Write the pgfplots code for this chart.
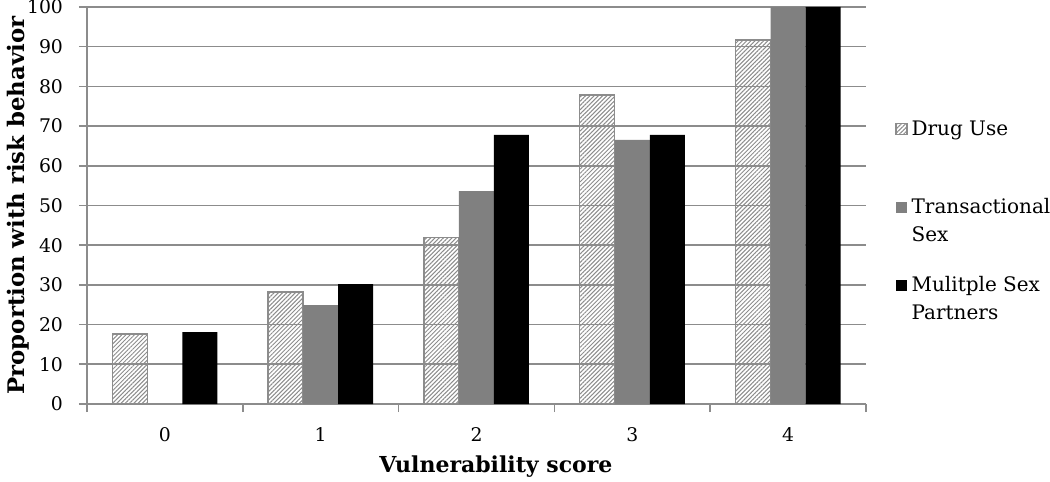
\documentclass[border=0pt]{standalone}
\usepackage{pgfplots}
\pgfplotsset{compat=1.18}
\usepackage{fontspec}
\setmainfont{DejaVu Serif}
\usetikzlibrary{patterns.meta}
\definecolor{gridgray}{RGB}{140,140,140}
\definecolor{bargray}{RGB}{128,128,128}
\begin{document}
\begin{tikzpicture}
\useasboundingbox (-43.5pt,-39pt) rectangle (481.5pt,202pt);
\begin{axis}[
  at={(0,0)}, anchor=south west,
  scale only axis, width=389.5pt, height=198.5pt,
  font=\fontsize{9.4}{11}\selectfont,
  /pgf/number format/assume math mode=true,
  ybar=0pt, bar width=17.5pt,
  xmin=-0.5, xmax=4.5, ymin=0, ymax=100,
  axis lines=left, axis line style={gridgray, line width=0.8pt, -},
  xtick={-0.5,0.5,1.5,2.5,3.5,4.5}, xticklabels={},
  extra x ticks={0,1,2,3,4}, extra x tick labels={0,1,2,3,4},
  extra x tick style={major tick length=0pt, grid=none, xticklabel style={yshift=-8pt}},
  ytick={0,10,...,100},
  ymajorgrids, grid style={gridgray, line width=0.8pt},
  tick align=outside, major tick length=4pt,
  tick style={gridgray, line width=0.8pt},
  yticklabel style={xshift=-4.5pt},
  xlabel={\bfseries Vulnerability score},
  ylabel={\bfseries Proportion with risk behavior},
  xlabel style={at={(axis description cs:0.525,-0.1587)}, anchor=center, font=\fontsize{11}{13}\selectfont},
  ylabel style={at={(axis description cs:-0.0886,0.5)}, anchor=center, font=\fontsize{11.4}{13}\selectfont},
  legend style={at={(1.037,0.725)}, anchor=north west, draw=none, fill=none,
    font=\fontsize{10}{14}\selectfont, cells={align=left, anchor=west},
    row sep=12pt, inner sep=0pt},
  legend image code/.code={\fill[#1] (0pt,4.3pt) rectangle (5.5pt,9.8pt);},
  clip=false,
]
\addplot[draw=gridgray, line width=0.7pt, pattern={Lines[angle=45,distance=1.5pt,line width=0.5pt]}, pattern color=gridgray]
  coordinates {(0,17.6) (1,28.2) (2,42.0) (3,77.8) (4,91.7)};
\addplot[draw=none, fill=bargray]
  coordinates {(1,24.9) (2,53.6) (3,66.5) (4,100)};
\addplot[draw=none, fill=black]
  coordinates {(0,18.1) (1,30.2) (2,67.8) (3,67.8) (4,100)};
\legend{Drug Use\\\strut, Transactional\\Sex, Mulitple Sex\\Partners}
\end{axis}
\end{tikzpicture}
\end{document}
